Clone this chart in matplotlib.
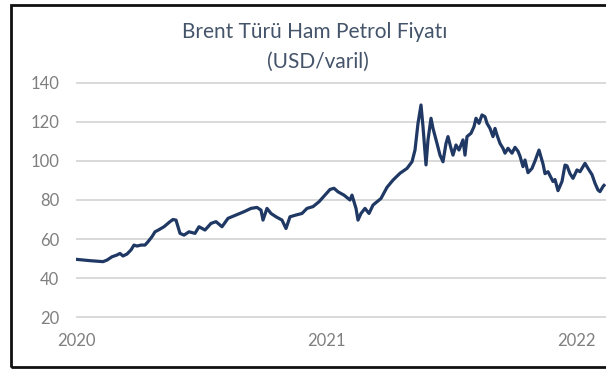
import numpy as np
import matplotlib
matplotlib.use("Agg")
import matplotlib.pyplot as plt
from matplotlib.patches import Rectangle

# Brent daily price trace, x in years counted from the 2020 tick
yil = 2020 + np.array([
    0.000, 0.056, 0.108, 0.124, 0.144, 0.164, 0.176, 0.188, 0.204, 0.220,
    0.232, 0.244, 0.260, 0.276, 0.288, 0.304, 0.316, 0.328, 0.352, 0.376,
    0.388, 0.400, 0.416, 0.432, 0.452, 0.476, 0.492, 0.516, 0.540, 0.560,
    0.584, 0.608, 0.640, 0.672, 0.700, 0.724, 0.740, 0.748, 0.764, 0.780,
    0.800, 0.824, 0.840, 0.856, 0.880, 0.904, 0.924, 0.948, 0.972, 0.996,
    1.016, 1.032, 1.048, 1.072, 1.096, 1.104, 1.120, 1.128, 1.140, 1.156,
    1.172, 1.188, 1.220, 1.244, 1.268, 1.296, 1.324, 1.344, 1.356, 1.368,
    1.380, 1.388, 1.400, 1.408, 1.420, 1.428, 1.444, 1.456, 1.468, 1.480,
    1.488, 1.500, 1.508, 1.520, 1.532, 1.548, 1.556, 1.564, 1.580, 1.592,
    1.600, 1.612, 1.624, 1.636, 1.644, 1.656, 1.668, 1.676, 1.684, 1.696,
    1.708, 1.716, 1.728, 1.744, 1.756, 1.768, 1.776, 1.788, 1.796, 1.808,
    1.824, 1.836, 1.852, 1.868, 1.876, 1.888, 1.908, 1.916, 1.928, 1.944,
    1.956, 1.964, 1.976, 1.988, 2.004, 2.016, 2.036, 2.048, 2.064, 2.076,
    2.088, 2.096, 2.108, 2.112,
])
fiyat = np.array([
    49.6, 48.9, 48.4, 49.2, 50.9, 51.8, 52.6, 51.3, 52.3, 54.4,
    56.9, 56.4, 56.9, 56.9, 58.6, 61.2, 63.7, 64.5, 66.3, 68.9,
    70.0, 69.7, 62.9, 62.0, 63.7, 62.9, 66.3, 64.6, 68.0, 68.9,
    66.3, 70.6, 72.3, 74.0, 75.7, 76.2, 74.8, 69.7, 75.7, 73.1,
    71.4, 69.7, 65.4, 71.4, 72.3, 73.1, 75.7, 76.6, 79.1, 82.5,
    85.4, 86.0, 84.2, 82.5, 80.0, 82.5, 75.7, 69.7, 73.1, 75.7,
    73.1, 77.4, 80.8, 86.5, 90.2, 93.7, 96.2, 99.6, 105.6, 119.3,
    128.7, 117.6, 98.0, 110.8, 121.9, 116.7, 109.0, 103.0, 99.6, 109.0,
    112.5, 106.5, 103.0, 108.2, 105.6, 110.8, 103.0, 112.5, 114.2, 117.6,
    121.9, 119.3, 123.6, 122.7, 119.3, 116.7, 112.5, 116.7, 113.3, 109.0,
    106.5, 104.0, 106.5, 104.0, 107.0, 105.0, 102.5, 97.1, 100.5, 94.0,
    96.2, 100.0, 105.6, 98.5, 93.5, 94.5, 89.5, 90.5, 84.8, 89.5,
    97.9, 97.5, 93.5, 91.1, 95.4, 94.5, 98.8, 96.2, 93.0, 88.6,
    85.1, 84.3, 86.9, 87.5,
])

y_ticks = [20, 40, 60, 80, 100, 120, 140]
x_ticks = [2020, 2021, 2022]
x_labels = ["2020", "2021", "2022"]

plt.rcParams["font.family"] = ["Lato", "DejaVu Sans"]

fig = plt.figure(figsize=(6.06, 3.70), dpi=100)
ax = fig.add_axes([76 / 606, 51 / 370, 530 / 606, 238 / 370])

ax.plot(yil, fiyat, color="#1f3864", lw=2.3, solid_joinstyle="round")

ax.set_xlim(2020, 2022.12)
ax.set_ylim(19, 141)
ax.set_yticks(y_ticks)
ax.set_xticks(x_ticks)
ax.set_xticklabels(x_labels)
ax.grid(axis="y", color="#d9d9d9", lw=1.4)
ax.grid(axis="x", visible=False)
ax.set_axisbelow(True)
for s in ax.spines.values():
    s.set_visible(False)
ax.tick_params(axis="y", length=0, labelsize=12, labelcolor="#7f7f7f", pad=12)
ax.tick_params(axis="x", length=0, labelsize=12, labelcolor="#7f7f7f", pad=10)

fig.text(315 / 606, 1 - 32 / 370, "Brent Türü Ham Petrol Fiyatı",
         ha="center", va="center", fontsize=15, color="#44546a")
fig.text(318 / 606, 1 - 62 / 370, "(USD/varil)",
         ha="center", va="center", fontsize=15, color="#44546a")

# outer frame, open on the right side
fig.patches.append(Rectangle((10.5 / 606, 3 / 370), 1.0, 1 - 7.75 / 370,
                             transform=fig.transFigure, fill=False,
                             edgecolor="#111111", lw=2.0))

fig.savefig("out.png", dpi=100)
